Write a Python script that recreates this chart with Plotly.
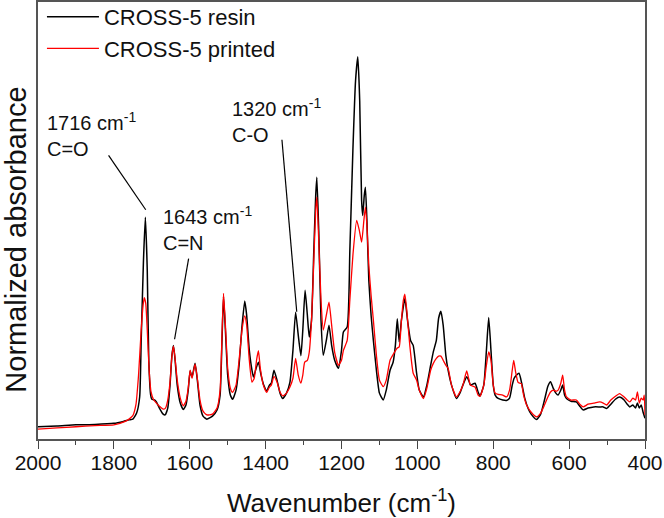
import plotly.graph_objects as go

# ---- data (wavenumber in cm-1, normalized absorbance) ----
resin_wn = [2000, 1950, 1900, 1850, 1800, 1775, 1760, 1750, 1740, 1732, 1728, 1722, 1717, 1712, 1708, 1703,
            1700, 1692, 1688, 1680, 1670, 1665, 1658, 1652, 1647, 1643, 1639, 1633, 1625, 1617, 1610, 1604,
            1599, 1594, 1586, 1580, 1573, 1565, 1555, 1540, 1528, 1520, 1515, 1511, 1506, 1500, 1493, 1487,
            1478, 1470, 1462, 1455, 1450, 1443, 1436, 1432, 1425, 1419, 1412, 1405, 1397, 1390, 1385, 1378,
            1370, 1362, 1355, 1345, 1336, 1328, 1321, 1314, 1307, 1302, 1296, 1290, 1285, 1279, 1273, 1268,
            1265, 1260, 1254, 1248, 1240, 1233, 1226, 1218, 1208, 1200, 1195, 1185, 1178, 1170, 1163, 1157,
            1152, 1147, 1144, 1140, 1137, 1133, 1128, 1122, 1116, 1108, 1100, 1090, 1082, 1072, 1064, 1058,
            1053, 1048, 1042, 1033, 1026, 1018, 1011, 1002, 995, 984, 975, 965, 958, 950, 944, 938,
            932, 925, 919, 910, 897, 888, 880, 870, 865, 860, 848, 840, 835, 825, 818, 812,
            806, 800, 795, 787, 775, 765, 757, 750, 745, 739, 732, 725, 717, 708, 700, 686,
            675, 665, 656, 649, 642, 635, 629, 622, 617, 612, 607, 595, 581, 572, 563, 550,
            535, 519, 510, 501, 490, 478, 467, 455, 447, 440, 432, 425, 420, 415, 410, 405, 400]
resin_abs = [0.032, 0.034, 0.037, 0.038, 0.041, 0.046, 0.050, 0.052, 0.068, 0.110, 0.258, 0.467, 0.580, 0.441, 0.206, 0.115,
             0.104, 0.102, 0.097, 0.081, 0.065, 0.063, 0.081, 0.141, 0.219, 0.245, 0.211, 0.141, 0.094, 0.077, 0.089, 0.128,
             0.178, 0.162, 0.198, 0.154, 0.089, 0.060, 0.052, 0.060, 0.076, 0.115, 0.258, 0.373, 0.285, 0.167, 0.115, 0.104,
             0.128, 0.193, 0.298, 0.361, 0.324, 0.232, 0.180, 0.162, 0.185, 0.201, 0.167, 0.141, 0.126, 0.141, 0.146, 0.180,
             0.154, 0.120, 0.106, 0.120, 0.148, 0.232, 0.332, 0.272, 0.218, 0.285, 0.389, 0.324, 0.267, 0.311, 0.493, 0.637,
             0.685, 0.546, 0.311, 0.219, 0.258, 0.298, 0.245, 0.206, 0.185, 0.232, 0.280, 0.293, 0.493, 0.755, 0.937, 1.000,
             0.885, 0.624, 0.585, 0.637, 0.659, 0.572, 0.415, 0.324, 0.258, 0.180, 0.120, 0.102, 0.128, 0.180, 0.201, 0.245,
             0.315, 0.254, 0.311, 0.368, 0.311, 0.258, 0.245, 0.172, 0.128, 0.110, 0.141, 0.193, 0.228, 0.258, 0.316, 0.334,
             0.298, 0.219, 0.180, 0.141, 0.106, 0.120, 0.141, 0.163, 0.154, 0.141, 0.146, 0.123, 0.112, 0.141, 0.232, 0.318,
             0.232, 0.141, 0.115, 0.106, 0.102, 0.101, 0.107, 0.141, 0.159, 0.167, 0.172, 0.146, 0.107, 0.080, 0.065, 0.051,
             0.065, 0.102, 0.138, 0.150, 0.133, 0.120, 0.115, 0.128, 0.141, 0.115, 0.106, 0.099, 0.097, 0.086, 0.076, 0.081,
             0.084, 0.084, 0.084, 0.080, 0.091, 0.104, 0.110, 0.102, 0.091, 0.084, 0.089, 0.081, 0.094, 0.081, 0.089, 0.070, 0.054]

printed_wn = [2000, 1950, 1900, 1850, 1800, 1770, 1760, 1750, 1742, 1735, 1728, 1723, 1720, 1716, 1712, 1707,
              1702, 1695, 1688, 1680, 1670, 1664, 1658, 1652, 1647, 1643, 1639, 1633, 1625, 1617, 1610, 1604,
              1599, 1594, 1586, 1580, 1573, 1565, 1555, 1540, 1528, 1520, 1515, 1511, 1506, 1500, 1493, 1487,
              1478, 1470, 1462, 1455, 1450, 1443, 1436, 1430, 1424, 1419, 1414, 1406, 1397, 1390, 1385, 1378,
              1370, 1362, 1355, 1345, 1336, 1328, 1321, 1314, 1307, 1302, 1297, 1290, 1285, 1279, 1273, 1268,
              1265, 1260, 1254, 1248, 1240, 1233, 1226, 1218, 1208, 1200, 1195, 1185, 1178, 1170, 1160, 1153,
              1147, 1141, 1137, 1133, 1128, 1122, 1116, 1108, 1100, 1090, 1082, 1072, 1062, 1053, 1048, 1042,
              1037, 1033, 1028, 1020, 1011, 1002, 995, 984, 975, 965, 958, 950, 944, 938, 932, 925,
              919, 910, 897, 888, 880, 870, 865, 860, 848, 840, 835, 825, 818, 812, 806, 800,
              795, 787, 775, 765, 757, 750, 746, 741, 735, 730, 726, 720, 712, 700, 686, 675,
              665, 656, 649, 642, 635, 629, 622, 617, 612, 607, 595, 581, 572, 563, 550, 535,
              519, 510, 501, 490, 478, 467, 455, 447, 440, 432, 425, 420, 415, 410, 405, 402, 400]
printed_abs = [0.026, 0.029, 0.032, 0.035, 0.037, 0.046, 0.052, 0.061, 0.089, 0.167, 0.285, 0.350, 0.370, 0.355, 0.285, 0.180,
               0.123, 0.102, 0.094, 0.086, 0.078, 0.081, 0.102, 0.149, 0.217, 0.243, 0.214, 0.154, 0.107, 0.087, 0.099, 0.133,
               0.180, 0.159, 0.196, 0.159, 0.102, 0.073, 0.063, 0.065, 0.081, 0.128, 0.272, 0.381, 0.298, 0.185, 0.133, 0.122,
               0.141, 0.206, 0.287, 0.322, 0.298, 0.206, 0.149, 0.159, 0.206, 0.231, 0.185, 0.141, 0.122, 0.136, 0.141, 0.164,
               0.149, 0.123, 0.113, 0.120, 0.136, 0.159, 0.211, 0.167, 0.146, 0.167, 0.201, 0.206, 0.227, 0.311, 0.467, 0.598,
               0.633, 0.520, 0.363, 0.285, 0.324, 0.358, 0.298, 0.227, 0.193, 0.206, 0.232, 0.258, 0.363, 0.480, 0.572, 0.546,
               0.515, 0.572, 0.607, 0.559, 0.454, 0.376, 0.311, 0.219, 0.154, 0.137, 0.154, 0.206, 0.224, 0.238, 0.241, 0.311,
               0.363, 0.379, 0.337, 0.245, 0.172, 0.154, 0.128, 0.106, 0.133, 0.180, 0.198, 0.211, 0.217, 0.217, 0.206, 0.193,
               0.185, 0.141, 0.110, 0.123, 0.141, 0.178, 0.159, 0.141, 0.136, 0.115, 0.112, 0.141, 0.193, 0.228, 0.206, 0.141,
               0.120, 0.117, 0.115, 0.110, 0.128, 0.180, 0.206, 0.175, 0.149, 0.146, 0.145, 0.115, 0.089, 0.070, 0.058, 0.068,
               0.089, 0.110, 0.123, 0.128, 0.125, 0.128, 0.146, 0.167, 0.128, 0.110, 0.102, 0.102, 0.091, 0.084, 0.091, 0.094,
               0.097, 0.094, 0.089, 0.102, 0.112, 0.119, 0.110, 0.102, 0.097, 0.107, 0.102, 0.123, 0.094, 0.107, 0.102, 0.115, 0.063]

series_names = ["CROSS-5 resin", "CROSS-5 printed"]
x_tick_vals = [2000, 1800, 1600, 1400, 1200, 1000, 800, 600, 400]
x_title = "Wavenumber (cm<sup>-1</sup>)"
y_title = "Normalized absorbance"

# peak labels: text, text anchor (wn, abs), leader line (wn0, abs0, wn1, abs1)
peak_labels = ["1716 cm<sup>-1</sup><br>C=O", "1643 cm<sup>-1</sup><br>C=N", "1320 cm<sup>-1</sup><br>C-O"]
peak_text_wn = [1982, 1675, 1494]
peak_text_abs = [0.798, 0.552, 0.834]
leader_start_wn = [1814, 1603, 1357]
leader_start_abs = [0.742, 0.472, 0.783]
leader_end_wn = [1716, 1640, 1318]
leader_end_abs = [0.600, 0.261, 0.333]

FONT = "Arial, Liberation Sans, sans-serif"
TXT = "#111111"

fig = go.Figure()
fig.add_trace(go.Scatter(x=resin_wn, y=resin_abs, mode="lines", name=series_names[0],
                         line=dict(color="#000000", width=1.5, shape="spline", smoothing=0.5)))
fig.add_trace(go.Scatter(x=printed_wn, y=printed_abs, mode="lines", name=series_names[1],
                         line=dict(color="#ff0000", width=1.3, shape="spline", smoothing=0.5)))

for i in range(len(peak_labels)):
    fig.add_annotation(x=peak_text_wn[i], y=peak_text_abs[i], text=peak_labels[i],
                       xanchor="left", yanchor="middle", align="left", showarrow=False,
                       font=dict(family=FONT, size=20, color=TXT))
    fig.add_shape(type="line", x0=leader_start_wn[i], y0=leader_start_abs[i],
                  x1=leader_end_wn[i], y1=leader_end_abs[i],
                  line=dict(color="#000000", width=1.2))

# y-axis title (placed as rotated text, slightly below the plot centre as in the reference)
fig.add_annotation(xref="paper", yref="paper", x=-0.0354, y=0.455, text=y_title, textangle=-90,
                   showarrow=False, xanchor="center", yanchor="middle", borderpad=0,
                   font=dict(family=FONT, size=29, color=TXT))

fig.update_layout(
    width=664, height=518,
    margin=dict(l=38, r=19, t=2, b=79, autoexpand=False),
    paper_bgcolor="white", plot_bgcolor="white",
    font=dict(family=FONT, color=TXT),
    showlegend=True,
    legend=dict(x=0.0065, y=1.0137, xanchor="left", yanchor="top", bgcolor="rgba(0,0,0,0)",
                font=dict(family=FONT, size=22, color=TXT), itemwidth=52,
                tracegroupgap=0),
    xaxis=dict(range=[2000, 400], tickvals=x_tick_vals, ticks="outside", ticklen=8, tickwidth=1.3,
               tickcolor="#444444", automargin=False, ticklabelstandoff=-4,
               minor=dict(ticks="outside", ticklen=4, dtick=100, tickcolor="#444444", tickwidth=1.3),
               showline=True, linecolor="#555555", linewidth=1.6, mirror=True,
               showgrid=False, zeroline=False,
               tickfont=dict(family=FONT, size=21, color=TXT),
               title=dict(text=x_title, font=dict(family=FONT, size=26, color=TXT), standoff=21)),
    yaxis=dict(range=[0, 1.1436], showticklabels=False, ticks="", showline=True, linecolor="#555555",
               linewidth=1.6, mirror=True, showgrid=False, zeroline=False, automargin=False),
)

fig.write_html("out.html", config={"displayModeBar": False},
               post_script="document.body.style.margin='0px';")
